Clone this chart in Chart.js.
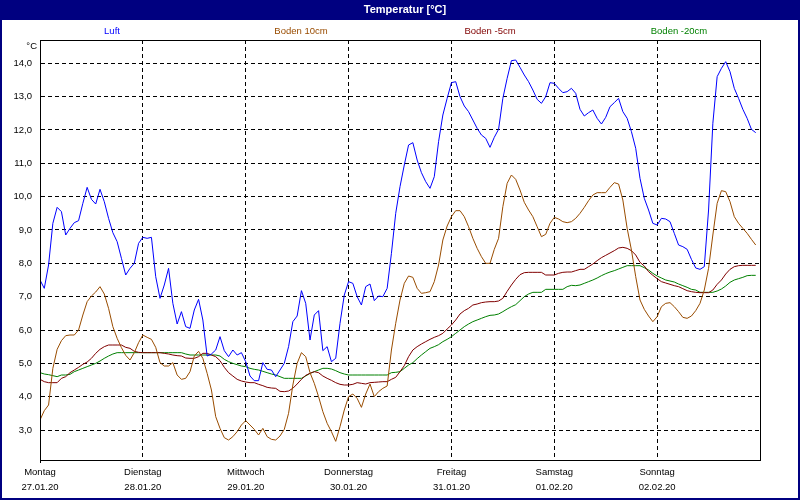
<!DOCTYPE html>
<html>
<head>
<meta charset="utf-8">
<title>Temperatur</title>
<script src="https://cdn.jsdelivr.net/npm/chart.js@4"></script>
<style>
    body { margin: 0; background: #fff; }
    canvas { display: block; }
</style>
</head>
<body>
<canvas id="temp-chart" width="800" height="500"></canvas>
<script>
// one reading per hour, 27.01.20 00:00 .. 02.02.20 23:00
const hours = [];
for (let h = 0; h < 168; h++) hours.push(h);

const dayTicks = [0, 24, 48, 72, 96, 120, 144];
const dayNames = ['Montag', 'Dienstag', 'Mittwoch', 'Donnerstag', 'Freitag', 'Samstag', 'Sonntag'];
const dayDates = ['27.01.20', '28.01.20', '29.01.20', '30.01.20', '31.01.20', '01.02.20', '02.02.20'];
const yTicks   = [3, 4, 5, 6, 7, 8, 9, 10, 11, 12, 13, 14];

const seriesNames = ['Luft', 'Boden 10cm', 'Boden -5cm', 'Boden -20cm'];

const luft = [
    7.5, 7.25, 7.95, 9.2, 9.68, 9.55, 8.85, 9.05, 9.22, 9.28, 9.8, 10.28,
    9.92, 9.78, 10.22, 9.85, 9.35, 8.92, 8.65, 8.15, 7.65, 7.85, 8.0, 8.6,
    8.78, 8.75, 8.78, 7.6, 6.95, 7.35, 7.85, 6.8, 6.18, 6.55, 6.1, 6.05,
    6.6, 6.92, 6.3, 5.22, 5.28, 5.4, 5.8, 5.38, 5.2, 5.4, 5.25, 5.32,
    5.05, 4.62, 4.48, 4.48, 5.02, 4.82, 4.8, 4.6, 4.8, 5.0, 5.5, 6.25,
    6.42, 7.18, 6.8, 5.7, 6.45, 6.58, 5.38, 5.5, 5.05, 5.15, 6.2, 7.05,
    7.45, 7.4, 7.0, 6.75, 7.3, 7.38, 6.88, 7.02, 7.0, 7.25, 8.3, 9.5,
    10.3, 10.95, 11.55, 11.62, 11.1, 10.72, 10.45, 10.25, 10.6, 11.65, 12.45, 12.95,
    13.42, 13.45, 13.0, 12.72, 12.55, 12.3, 12.05, 11.85, 11.75, 11.48, 11.78, 12.02,
    12.95, 13.55, 14.08, 14.1, 13.88, 13.65, 13.45, 13.2, 12.92, 12.8, 13.0, 13.42,
    13.4, 13.25, 13.12, 13.15, 13.25, 13.1, 12.62, 12.42, 12.52, 12.6, 12.35, 12.18,
    12.38, 12.7, 12.82, 12.95, 12.55, 12.35, 11.95, 11.45, 10.55, 9.95, 9.6, 9.2,
    9.15, 9.35, 9.33, 9.25, 8.9, 8.55, 8.5, 8.42, 8.12, 7.86, 7.82, 7.9,
    9.6, 12.2, 13.6, 13.85, 14.05, 13.75, 13.25, 12.95, 12.62, 12.35, 12.02, 11.92
];
const boden10 = [
    3.3, 3.58, 3.75, 4.85, 5.42, 5.68, 5.83, 5.85, 5.85, 6.0, 6.45, 6.85,
    7.02, 7.14, 7.3, 7.08, 6.65, 6.1, 5.75, 5.47, 5.24, 5.1, 5.32, 5.62,
    5.85, 5.78, 5.72, 5.48, 5.02, 4.92, 4.92, 5.02, 4.65, 4.52, 4.55, 4.75,
    5.22, 5.36, 5.15, 4.7, 4.2, 3.4, 3.05, 2.77, 2.7, 2.8, 2.95, 3.15,
    3.28, 3.15, 3.02, 2.85, 3.05, 2.8, 2.72, 2.7, 2.82, 3.02, 3.5, 4.35,
    5.0, 5.32, 5.2, 4.72, 4.4, 4.0, 3.55, 3.2, 2.95, 2.66, 3.1, 3.6,
    4.0, 4.08, 3.95, 3.68, 4.08, 4.38, 4.0, 4.15, 4.25, 4.32, 5.4, 6.2,
    6.9, 7.4, 7.62, 7.58, 7.25, 7.1, 7.12, 7.15, 7.45, 7.95, 8.7, 9.12,
    9.4, 9.58, 9.58, 9.4, 9.1, 8.75, 8.45, 8.2, 8.0, 8.0, 8.42, 8.75,
    9.7, 10.4, 10.65, 10.52, 10.2, 9.83, 9.6, 9.4, 9.1, 8.8, 8.87, 9.2,
    9.38, 9.33, 9.25, 9.22, 9.25, 9.35, 9.5, 9.68, 9.88, 10.05, 10.12, 10.12,
    10.12, 10.28, 10.42, 10.38, 9.9, 9.05, 8.4, 7.6, 6.9, 6.62, 6.42, 6.25,
    6.4, 6.7, 6.8, 6.82, 6.7, 6.55, 6.38, 6.35, 6.42, 6.58, 6.8, 7.2,
    7.85, 8.85, 9.8, 10.18, 10.15, 9.85, 9.4, 9.2, 9.05, 8.9, 8.72, 8.55
];
const boden5 = [
    4.52, 4.45, 4.42, 4.42, 4.42, 4.55, 4.6, 4.72, 4.8, 4.88, 4.97, 5.04,
    5.15, 5.3, 5.42, 5.5, 5.55, 5.55, 5.55, 5.55, 5.48, 5.45, 5.36, 5.33,
    5.32, 5.32, 5.32, 5.32, 5.32, 5.3, 5.28, 5.25, 5.23, 5.22, 5.16, 5.15,
    5.15, 5.2, 5.3, 5.3, 5.25, 5.2, 5.08, 4.88, 4.72, 4.62, 4.52, 4.47,
    4.44, 4.42, 4.42, 4.37, 4.33, 4.28, 4.26, 4.25, 4.16, 4.15, 4.17, 4.25,
    4.38, 4.52, 4.64, 4.7, 4.75, 4.72, 4.62, 4.55, 4.49, 4.42, 4.37, 4.35,
    4.35, 4.37, 4.42, 4.4, 4.38, 4.42, 4.43, 4.44, 4.45, 4.45, 4.52, 4.58,
    4.75, 4.93, 5.2, 5.4, 5.5, 5.58, 5.65, 5.72, 5.78, 5.83, 5.9, 6.03,
    6.15, 6.3, 6.48, 6.58, 6.65, 6.75, 6.78, 6.82, 6.84, 6.85, 6.85, 6.87,
    6.95, 7.16, 7.35, 7.52, 7.66, 7.72, 7.73, 7.73, 7.73, 7.73, 7.65, 7.65,
    7.65, 7.7, 7.73, 7.74, 7.74, 7.78, 7.82, 7.82, 7.9, 7.98, 8.08, 8.17,
    8.24, 8.31, 8.38, 8.46, 8.48, 8.45, 8.38, 8.25, 8.03, 7.92, 7.75, 7.64,
    7.54, 7.45, 7.41, 7.37, 7.33, 7.3, 7.24, 7.18, 7.15, 7.13, 7.12, 7.12,
    7.12, 7.2, 7.37, 7.5, 7.68, 7.82, 7.9, 7.93, 7.94, 7.94, 7.94, 7.94
];
const boden20 = [
    4.72, 4.68, 4.66, 4.63, 4.6, 4.65, 4.65, 4.67, 4.75, 4.8, 4.85, 4.9,
    4.95, 5.0, 5.07, 5.15, 5.22, 5.28, 5.32, 5.32, 5.32, 5.32, 5.32, 5.32,
    5.32, 5.32, 5.32, 5.32, 5.32, 5.32, 5.32, 5.32, 5.32, 5.32, 5.28, 5.25,
    5.25, 5.25, 5.25, 5.25, 5.25, 5.25, 5.22, 5.12, 5.05, 5.0, 4.96, 4.92,
    4.9, 4.85, 4.82, 4.8, 4.76, 4.72, 4.68, 4.65, 4.6, 4.55, 4.55, 4.55,
    4.55, 4.55, 4.62, 4.7, 4.75, 4.8, 4.85, 4.85, 4.83, 4.78, 4.72, 4.68,
    4.65, 4.65, 4.65, 4.65, 4.65, 4.65, 4.65, 4.65, 4.65, 4.65, 4.72, 4.73,
    4.75, 4.85, 4.95, 5.02, 5.14, 5.25, 5.35, 5.45, 5.5, 5.56, 5.65, 5.72,
    5.8, 5.9, 6.0, 6.1, 6.18, 6.25, 6.3, 6.35, 6.4, 6.44, 6.45, 6.48,
    6.55, 6.63, 6.7, 6.76, 6.88, 7.0, 7.08, 7.13, 7.13, 7.13, 7.22, 7.22,
    7.22, 7.22, 7.22, 7.3, 7.34, 7.33, 7.35, 7.4, 7.45, 7.5, 7.56, 7.63,
    7.69, 7.74, 7.78, 7.83, 7.88, 7.93, 7.93, 7.93, 7.93, 7.87, 7.8, 7.7,
    7.62, 7.56, 7.5, 7.47, 7.44, 7.38, 7.33, 7.28, 7.22, 7.2, 7.13, 7.13,
    7.13, 7.13, 7.17, 7.23, 7.32, 7.43, 7.5, 7.54, 7.58, 7.63, 7.64, 7.64
];

const colors = {
    luft    : '#0000ff',
    boden10 : '#994c00',
    boden5  : '#800000',
    boden20 : '#008000'
};
const navy = '#000080';
const font = 'Liberation Sans, Arial, sans-serif';

function toPoints(values) {
    return hours.map((h, i) => ({ x: h, y: values[i] }));
}

/* title bar, legend row, frame and unit label */
const framePlugin = {
    id: 'frame',
    beforeDraw(chart) {
        const ctx = chart.ctx;
        ctx.save();
        ctx.fillStyle = '#fff';
        ctx.fillRect(0, 0, chart.width, chart.height);
        ctx.restore();
    },
    afterDraw(chart) {
        const ctx = chart.ctx;
        const a = chart.chartArea;
        ctx.save();
        ctx.strokeStyle = '#000';
        ctx.lineWidth = 1;
        ctx.strokeRect(a.left + 0.5, a.top + 0.5, a.right - a.left, a.bottom - a.top);
        ctx.beginPath();
        ctx.moveTo(a.left + 0.5, a.bottom);
        ctx.lineTo(a.left + 0.5, a.bottom + 3);
        ctx.stroke();

        ctx.fillStyle = navy;
        ctx.fillRect(0, 0, chart.width, 20);
        ctx.strokeStyle = navy;
        ctx.lineWidth = 2;
        ctx.strokeRect(1, 1, chart.width - 2, chart.height - 2);

        ctx.textAlign = 'center';
        ctx.textBaseline = 'middle';
        ctx.fillStyle = '#fff';
        ctx.font = 'bold 11px ' + font;
        ctx.fillText('Temperatur [°C]', 405, 10);

        ctx.font = '9.5px ' + font;
        chart.data.datasets.forEach((ds, i) => {
            ctx.fillStyle = ds.borderColor;
            ctx.fillText(ds.label, a.left + 72 + 189 * i, 31);
        });

        ctx.fillStyle = '#000';
        ctx.textAlign = 'right';
        ctx.fillText('°C', a.left - 3, a.top + 6);
        ctx.restore();
    }
};

const ctx = document.getElementById('temp-chart').getContext('2d');
const tempChart = new Chart(ctx, {
    type: 'line',
    data: {
        datasets: [{
            label: seriesNames[0],
            data: toPoints(luft),
            borderColor: colors.luft,
            borderWidth: 1
        },
        {
            label: seriesNames[1],
            data: toPoints(boden10),
            borderColor: colors.boden10,
            borderWidth: 1
        },
        {
            label: seriesNames[2],
            data: toPoints(boden5),
            borderColor: colors.boden5,
            borderWidth: 1
        },
        {
            label: seriesNames[3],
            data: toPoints(boden20),
            borderColor: colors.boden20,
            borderWidth: 1
        }]
    },
    options: {
        responsive: false,
        animation: false,
        elements: {
            point: { radius: 0 },
            line: { tension: 0, fill: false }
        },
        layout: {
            padding: { top: 40, right: 40, left: 0, bottom: 0 }
        },
        scales: {
            x: {
                type: 'linear',
                min: 0,
                max: 168,
                afterBuildTicks: axis => { axis.ticks = dayTicks.map(v => ({ value: v })); },
                afterFit: scale => { scale.height = 40; },
                ticks: {
                    autoSkip: false,
                    maxRotation: 0,
                    padding: 5,
                    color: '#000',
                    font: { family: font, size: 9.5, lineHeight: 1.55 },
                    callback: (value, index) => [dayNames[index], dayDates[index]]
                },
                grid: { color: '#000', drawTicks: false },
                border: { color: '#000', dash: [4, 3] }
            },
            y: {
                min: 2.1,
                max: 14.7,
                afterBuildTicks: axis => { axis.ticks = yTicks.map(v => ({ value: v })); },
                afterFit: scale => { scale.width = 40; },
                ticks: {
                    padding: 8,
                    color: '#000',
                    font: { family: font, size: 9.5 },
                    callback: value => value.toFixed(1).replace('.', ',')
                },
                grid: { color: '#000', drawTicks: false },
                border: { color: '#000', dash: [4, 3] }
            }
        },
        plugins: {
            legend: { display: false },
            title: { display: false },
            tooltip: { enabled: false }
        }
    },
    plugins: [framePlugin]
});
</script>
</body>
</html>
